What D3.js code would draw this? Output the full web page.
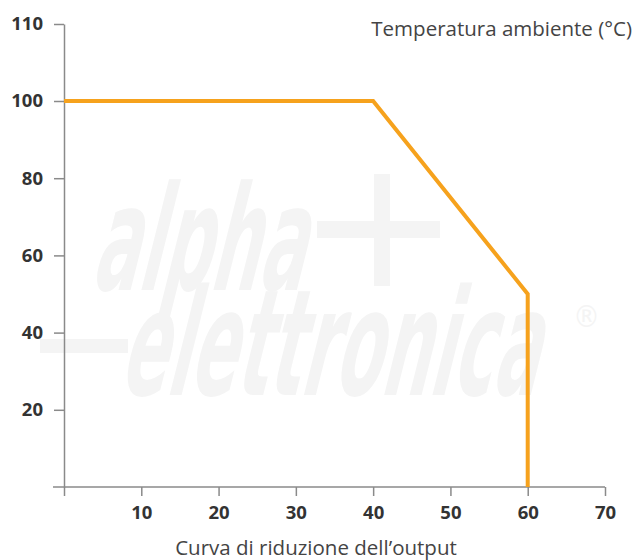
<!DOCTYPE html>
<html>
<head>
<meta charset="utf-8">
<script src="https://cdn.jsdelivr.net/npm/d3@7"></script>
<style>
  body { margin: 0; background: #fff; }
  svg { display: block; font-family: "Open Sans", sans-serif; }
</style>
</head>
<body>
<div id="chart"></div>
<script>
const width = 635, height = 560;

// derating curve points (output %, temperature)
const curveX = [0, 40, 60, 60];
const curveY = [100, 100, 50, 0];
const xTicks = [10, 20, 30, 40, 50, 60, 70];
const yTicks = [20, 40, 60, 80, 100, 110];

const svg = d3.select("#chart")
  .append("svg")
    .attr("width", width)
    .attr("height", height);

const xScale = d3.scaleLinear().domain([0, 70]).range([64, 605]);
// top label 110 sits closer to 100 than the rest of the scale
const yScale = d3.scaleLinear().domain([0, 100, 110]).range([487, 101, 24]);

// faint watermark
const wm = svg.append("g")
  .attr("fill", "#f4f4f4")
  .style("font-family", "'DejaVu Sans Condensed', 'Liberation Sans Narrow', sans-serif")
  .style("font-weight", 700);
wm.append("text")
  .attr("transform", "translate(90,290) skewX(-14)")
  .attr("textLength", 212)
  .attr("lengthAdjust", "spacingAndGlyphs")
  .style("font-size", "146px")
  .text("alpha");
wm.append("rect").attr("x", 374).attr("y", 174).attr("width", 16).attr("height", 112);
wm.append("rect").attr("x", 317).attr("y", 221).attr("width", 123).attr("height", 17);
wm.append("rect").attr("x", 40).attr("y", 339).attr("width", 88).attr("height", 14);
wm.append("text")
  .attr("transform", "translate(118,395) skewX(-14)")
  .attr("textLength", 418)
  .attr("lengthAdjust", "spacingAndGlyphs")
  .style("font-size", "148px")
  .text("elettronica");
wm.append("text")
  .attr("x", 573).attr("y", 327)
  .style("font-size", "30px")
  .style("font-weight", 400)
  .text("®");

const axisColor = "#8a8a8a";
const tickFont = g => g.selectAll(".tick text")
  .attr("fill", "#333")
  .style("font-family", "'Open Sans', sans-serif")
  .style("font-size", "18.5px")
  .style("font-weight", 700);

// y axis
svg.append("g")
  .attr("transform", `translate(${xScale(0)},0)`)
  .call(d3.axisLeft(yScale).tickValues(yTicks).tickSize(10).tickPadding(11).tickSizeOuter(0))
  .call(g => g.select(".domain").attr("stroke", axisColor).attr("stroke-width", 1.5))
  .call(g => g.selectAll(".tick line").attr("stroke", axisColor).attr("stroke-width", 1.5))
  .call(tickFont);

// x axis
svg.append("g")
  .attr("transform", `translate(0,${yScale(0)})`)
  .call(d3.axisBottom(xScale).tickValues([0].concat(xTicks)).tickSize(9).tickPadding(10).tickSizeOuter(0)
    .tickFormat(d => d === 0 ? "" : d))
  .call(g => g.select(".domain").attr("stroke", axisColor).attr("stroke-width", 1.5)
    .attr("d", `M53,0H${xScale(70)}`))
  .call(g => g.selectAll(".tick line").attr("stroke", axisColor).attr("stroke-width", 1.5))
  .call(tickFont);

// derating curve
const line = d3.line()
  .x((d, i) => xScale(curveX[i]))
  .y(d => yScale(d));

svg.append("path")
  .datum(curveY)
  .attr("d", line)
  .attr("fill", "none")
  .attr("stroke", "#f6a21d")
  .attr("stroke-width", 4)
  .attr("stroke-linejoin", "miter");

// titles
svg.append("text")
  .attr("x", 632)
  .attr("y", 36)
  .attr("text-anchor", "end")
  .attr("fill", "#444")
  .style("font-size", "20.5px")
  .text("Temperatura ambiente (°C)");

svg.append("text")
  .attr("x", 316)
  .attr("y", 555)
  .attr("text-anchor", "middle")
  .attr("fill", "#444")
  .style("font-size", "20.5px")
  .text("Curva di riduzione dell\u2019output");
</script>
</body>
</html>
